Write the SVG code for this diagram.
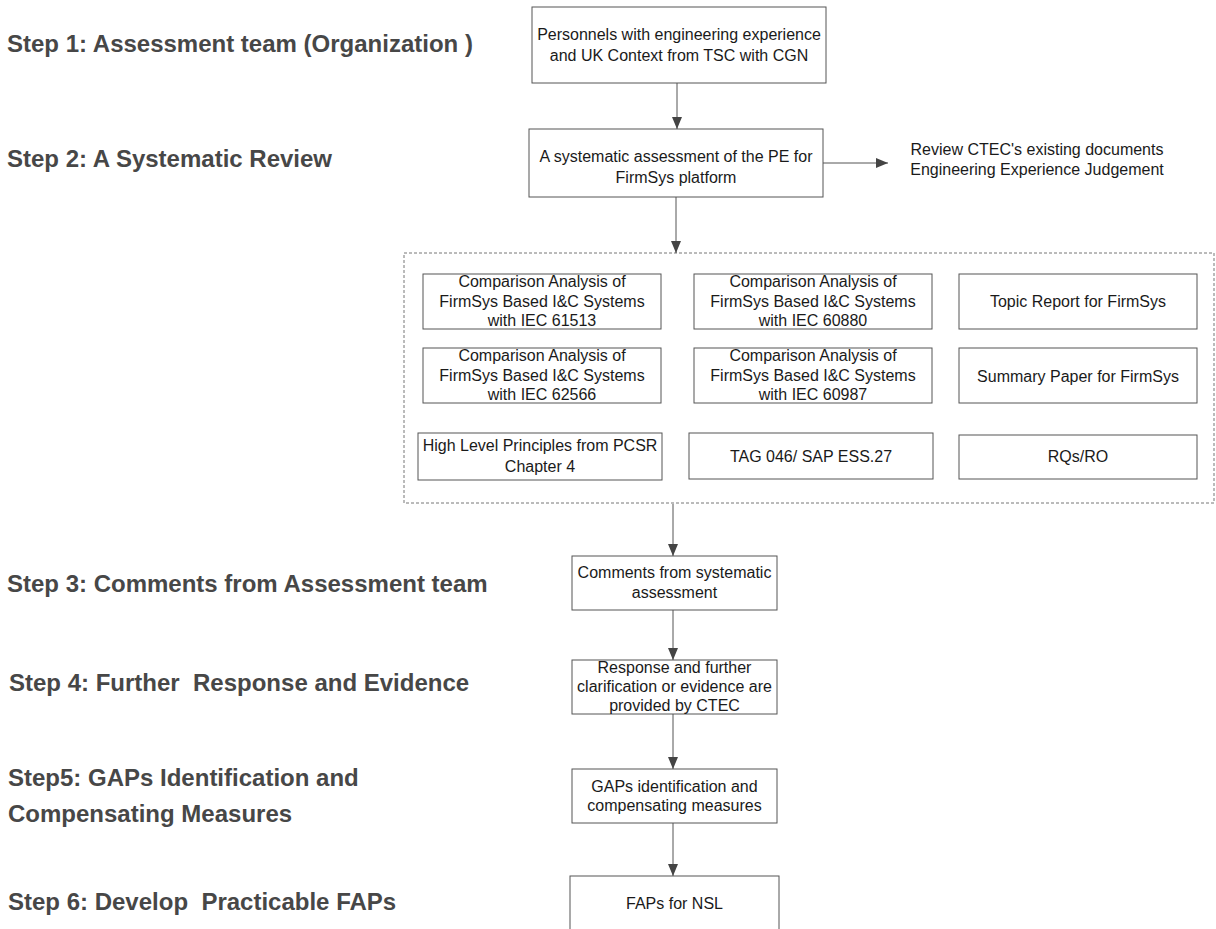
<svg xmlns="http://www.w3.org/2000/svg" width="1216" height="929" viewBox="0 0 1216 929">
<defs>
<marker id="arr" viewBox="0 0 12 10" refX="12" refY="5" markerWidth="12" markerHeight="10" markerUnits="userSpaceOnUse" orient="auto">
<path d="M0,0 L12,5 L0,10 z" fill="#444"/>
</marker>
<style>
.box{fill:#fff;stroke:#555;stroke-width:1}
.t{font-family:"Liberation Sans",Arial,sans-serif;font-size:16px;fill:#1a1a1a;text-anchor:middle}
.step{font-family:"Liberation Sans",Arial,sans-serif;font-size:24px;font-weight:bold;fill:#474747}
.con{stroke:#555;stroke-width:1;fill:none;marker-end:url(#arr)}
.dash{fill:none;stroke:#777;stroke-width:1;stroke-dasharray:3,2}
</style>
</defs>
<rect width="1216" height="929" fill="#fff"/>

<g id="steps">
<text class="step" x="7" y="52">Step 1: Assessment team (Organization )</text>
<text class="step" x="7" y="167">Step 2: A Systematic Review</text>
<text class="step" x="7" y="592">Step 3: Comments from Assessment team</text>
<text class="step" x="9" y="691" xml:space="preserve">Step 4: Further  Response and Evidence</text>
<text class="step" x="8" y="786">Step5: GAPs Identification and</text>
<text class="step" x="8" y="822">Compensating Measures</text>
<text class="step" x="8" y="910" xml:space="preserve">Step 6: Develop  Practicable FAPs</text>
</g>

<g id="container">
<rect class="dash" x="404" y="253" width="810" height="250"/>
</g>

<g id="connectors">
<line class="con" x1="677" y1="83" x2="677" y2="129"/>
<line class="con" x1="823" y1="163" x2="888" y2="163"/>
<line class="con" x1="676" y1="197" x2="676" y2="253"/>
<line class="con" x1="673" y1="504" x2="673" y2="556"/>
<line class="con" x1="673" y1="610" x2="673" y2="660"/>
<line class="con" x1="673" y1="714" x2="673" y2="769"/>
<line class="con" x1="673" y1="823" x2="673" y2="876"/>
</g>

<g id="n1">
<rect class="box" x="532" y="7" width="294" height="76"/>
<text class="t" x="679" y="40">Personnels with engineering experience</text>
<text class="t" x="679" y="61">and UK Context from TSC with CGN</text>
</g>
<g id="n2">
<rect class="box" x="529" y="129" width="294" height="68"/>
<text class="t" x="676" y="162">A systematic assessment of the PE for</text>
<text class="t" x="676" y="183">FirmSys platform</text>
</g>
<g id="n3">
<text class="t" x="1037" y="155">Review CTEC's existing documents</text>
<text class="t" x="1037" y="175">Engineering Experience Judgement</text>
</g>

<g id="b1">
<rect class="box" x="423" y="274" width="238" height="55"/>
<text class="t" x="542" y="287">Comparison Analysis of</text>
<text class="t" x="542" y="307">FirmSys Based I&amp;C Systems</text>
<text class="t" x="542" y="326">with IEC 61513</text>
</g>
<g id="b2">
<rect class="box" x="694" y="274" width="238" height="55"/>
<text class="t" x="813" y="287">Comparison Analysis of</text>
<text class="t" x="813" y="307">FirmSys Based I&amp;C Systems</text>
<text class="t" x="813" y="326">with IEC 60880</text>
</g>
<g id="b3">
<rect class="box" x="959" y="274" width="238" height="55"/>
<text class="t" x="1078" y="307">Topic Report for FirmSys</text>
</g>
<g id="b4">
<rect class="box" x="423" y="348" width="238" height="55"/>
<text class="t" x="542" y="361">Comparison Analysis of</text>
<text class="t" x="542" y="381">FirmSys Based I&amp;C Systems</text>
<text class="t" x="542" y="400">with IEC 62566</text>
</g>
<g id="b5">
<rect class="box" x="694" y="348" width="238" height="55"/>
<text class="t" x="813" y="361">Comparison Analysis of</text>
<text class="t" x="813" y="381">FirmSys Based I&amp;C Systems</text>
<text class="t" x="813" y="400">with IEC 60987</text>
</g>
<g id="b6">
<rect class="box" x="959" y="348" width="238" height="55"/>
<text class="t" x="1078" y="382">Summary Paper for FirmSys</text>
</g>
<g id="b7">
<rect class="box" x="418" y="433" width="244" height="47"/>
<text class="t" x="540" y="451">High Level Principles from PCSR</text>
<text class="t" x="540" y="472">Chapter 4</text>
</g>
<g id="b8">
<rect class="box" x="689" y="433" width="244" height="46"/>
<text class="t" x="811" y="462">TAG 046/ SAP ESS.27</text>
</g>
<g id="b9">
<rect class="box" x="959" y="435" width="238" height="44"/>
<text class="t" x="1078" y="462">RQs/RO</text>
</g>

<g id="n4">
<rect class="box" x="572" y="556" width="205" height="54"/>
<text class="t" x="674.5" y="578">Comments from systematic</text>
<text class="t" x="674.5" y="598">assessment</text>
</g>
<g id="n5">
<rect class="box" x="572" y="660" width="205" height="54"/>
<text class="t" x="674.5" y="673">Response and further</text>
<text class="t" x="674.5" y="692">clarification or evidence are</text>
<text class="t" x="674.5" y="711">provided by CTEC</text>
</g>
<g id="n6">
<rect class="box" x="572" y="769" width="205" height="54"/>
<text class="t" x="674.5" y="792">GAPs identification and</text>
<text class="t" x="674.5" y="811">compensating measures</text>
</g>
<g id="n7">
<rect class="box" x="570" y="876" width="209" height="60"/>
<text class="t" x="674.5" y="909">FAPs for NSL</text>
</g>
</svg>
